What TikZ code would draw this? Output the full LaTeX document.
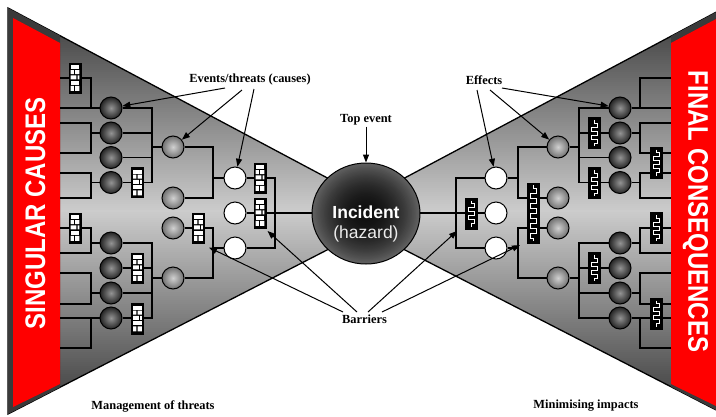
\documentclass[tikz,border=0pt]{standalone}
\usepackage{fontspec}
\setmainfont{Liberation Serif}
\setsansfont{Liberation Sans}
\usetikzlibrary{arrows.meta,shapes.geometric}
\definecolor{redband}{HTML}{FF0000}
\definecolor{stripgray}{HTML}{3A3A3A}

\tikzset{
 conn/.style={line width=1.2pt, black},
 darkball/.style={circle, draw=black, line width=1pt, minimum size=22pt, inner sep=0pt, inner color=black!42, outer color=black!86},
 grayball/.style={circle, draw=black, line width=1pt, minimum size=22pt, inner sep=0pt, inner color=black!18, outer color=black!56},
 whiteball/.style={circle, draw=black, line width=1pt, minimum size=22pt, inner sep=0pt, fill=white},
 bbox/.style={rectangle, draw=black, fill=black, line width=0.6pt, minimum width=12pt, inner sep=0pt},
 lbl/.style={font=\fontsize{12.4}{14}\selectfont\bfseries, text=black, inner sep=1pt},
 arr/.style={line width=1pt, -{Triangle[length=8pt,width=6pt]}},
 wave/.style={white, line width=0.9pt}
}

\newcommand\brickbox[4]{%
  \node[bbox, minimum height=#4pt] (#1) at (#2,#3) {};
  \begin{scope}[shift={(#2,#3)}]
    \fill[white] (-4.3,-13) rectangle (4.3,-9);
    \fill[white] (-4.3,-7.8) rectangle (-1.2,-3.8) (0,-7.8) rectangle (4.3,-3.8);
    \fill[white] (-4.3,-2.6) rectangle (1.4,1.4) (2.6,-2.6) rectangle (4.3,1.4);
    \fill[white] (-4.3,2.6) rectangle (4.3,6.6);
    \fill[white] (-4.3,7.8) rectangle (-1.2,12.8) (0,7.8) rectangle (4.3,12.8);
  \end{scope}}

\newcommand\wavebox[3]{%
  \node[bbox, minimum height=31pt] (#1) at (#2,#3) {};
  \draw[wave,shift={(#2,#3)}] (0,-13) -- (0,-10) -- (3,-10) -- (3,-6) -- (-3,-6) -- (-3,-2) -- (3,-2) -- (3,2) -- (-3,2) -- (-3,6) -- (3,6) -- (3,10) -- (0,10) -- (0,13);}

\newcommand\halfnet[1]{%
  \draw[conn] (60,78) -| (91,108);
  \draw[conn] (60,123) -| (91,153) -- (60,153);
  \draw[conn] (60,173) -| (91,198) -- (60,198);
  \draw[conn] (60,228) -| (91,253) -- (60,253);
  \draw[conn] (60,273) -| (91,304) -- (60,304);
  \draw[conn] (60,348) -| (91,318);
  \foreach \nm/\yy in {1/108,2/133,3/157.5,4/182.5,5/243,6/268,7/293,8/318}
    \node[darkball] (#1b\nm) at (111,\yy) {};
  \node[grayball] (#1gA) at (173,147) {};
  \node[grayball] (#1gB) at (173,198) {};
  \node[grayball] (#1gC) at (173,228) {};
  \node[grayball] (#1gD) at (173,278) {};
  \node[whiteball] (#1w1) at (235,178) {};
  \node[whiteball] (#1w2) at (235,213) {};
  \node[whiteball] (#1w3) at (235,248) {};
  \draw[conn] (60,108) -- (#1b1);
  \draw[conn] (91,133) -- (#1b2);
  \draw[conn] (91,182.5) -- (#1b4);
  \draw[conn] (91,243) -- (#1b5);
  \draw[conn] (91,293) -- (#1b7);
  \draw[conn] (60,318) -- (#1b8);
  \draw[conn] (#1b1) -- (152,108) -- (152,182.5) -- (#1b4);
  \draw[conn] (#1b2) -- (152,133);
  \draw[conn] (#1b3) -- (152,157.5);
  \draw[conn] (152,147) -- (#1gA);
  \draw[conn] (#1b5) -- (152,243) -- (152,318) -- (#1b8);
  \draw[conn] (#1b6) -- (152,268);
  \draw[conn] (#1b7) -- (152,293);
  \draw[conn] (152,278) -- (#1gD);
  \draw[conn] (#1gA) -- (213,147) -- (213,198) -- (#1gB);
  \draw[conn] (213,178) -- (#1w1);
  \draw[conn] (#1gC) -- (213,228) -- (213,278) -- (#1gD);
  \draw[conn] (213,248) -- (#1w3);
  \draw[conn] (#1w1) -- (275,178) -- (275,248) -- (#1w3);
}

\begin{document}
\begin{tikzpicture}[x=1pt,y=-1pt]
\useasboundingbox (0,0) rectangle (716,416);
\clip (0,0) rectangle (716,416);
\fill[white] (0,0) rectangle (716,416);

% bow-tie wings: vertical gradient dark - light - dark
\begin{scope}
\clip (8,8) -- (396,214.5) -- (8,414) -- cycle (724,8) -- (724,414) -- (336,214.5) -- cycle;
\foreach \i in {0,...,203} {
  \pgfmathsetmacro\pp{20+58*abs(9+2*\i-211)/203}
  \fill[black!\pp] (0,8+2*\i) rectangle (740,10.4+2*\i);
}
\end{scope}
\draw[line width=1.3pt] (8,8) -- (396,214.5) -- (8,414) -- cycle;
\draw[line width=1.3pt] (724,8) -- (336,214.5) -- (724,414) -- cycle;

% dark strips and red bands
\fill[stripgray] (8,8) -- (60,35.7) -- (60,387.3) -- (8,414) -- cycle;
\fill[stripgray] (724,8) -- (671,36.2) -- (671,386.8) -- (724,414) -- cycle;
\fill[redband] (13,18) -- (60,43) -- (60,384) -- (13,407) -- cycle;
\fill[redband] (718,18) -- (671,43) -- (671,384) -- (718,407) -- cycle;
\node[rotate=90, text=white, inner sep=0pt, font=\sffamily\bfseries\fontsize{24}{24}\selectfont] (sc) at (35.5,213.5) {\scalebox{1}[1.18]{SINGULAR CAUSES}};
\node[rotate=-90, text=white, inner sep=0pt, font=\sffamily\bfseries\fontsize{24}{24}\selectfont] (fc) at (695.5,211.5) {\scalebox{1}[1.18]{FINAL CONSEQUENCES}};

% networks
\halfnet{L}
\begin{scope}[xshift=731pt, xscale=-1]
\halfnet{R}
\end{scope}
\draw[conn] (Lw2) -- (Rw2);

% barriers, left (brick) and right (wave)
\brickbox{lx1}{75}{78}{30}
\brickbox{lx2}{75}{228}{30}
\brickbox{lx3}{137.5}{182.5}{30}
\brickbox{lx4}{137.5}{268}{30}
\brickbox{lx5}{137.5}{318.5}{31}
\brickbox{lx6}{198.5}{228}{30}
\brickbox{lx7}{260}{178}{30}
\brickbox{lx8}{260}{213}{30}
\wavebox{rx1}{471.5}{213.5}
\wavebox{rx3}{594}{133}
\wavebox{rx4}{594}{183}
\wavebox{rx5}{594}{268}
\wavebox{rx6}{656}{162.5}
\wavebox{rx7}{656}{228}
\wavebox{rx8}{656}{313.5}
\node[bbox, minimum height=60pt] (rx2) at (533,213) {};
\draw[wave,shift={(533,213)}] (0,-28) -- (0,-25) -- (3,-25) -- (3,-20) -- (-3,-20) -- (-3,-15) -- (3,-15) -- (3,-10) -- (-3,-10) -- (-3,-5) -- (3,-5) -- (3,0) -- (-3,0) -- (-3,5) -- (3,5) -- (3,10) -- (-3,10) -- (-3,15) -- (3,15) -- (3,20) -- (-3,20) -- (-3,25) -- (0,25) -- (0,28);

% top event: radial gradient drawn as concentric ellipses
\foreach \k in {0,...,40} {
  \pgfmathsetmacro\ff{1-\k/40}
  \pgfmathsetmacro\pq{94-32*\ff*\ff}
  \fill[black!\pq] (366,213.5) ellipse [x radius=54*\ff, y radius=50.5*\ff];
}
\node[ellipse, draw=black, line width=1pt, minimum width=108pt, minimum height=101pt, inner sep=0pt] (inc) at (366,213.5) {};
\node[anchor=base, text=white, inner sep=0pt, font=\sffamily\bfseries\fontsize{17.5}{18}\selectfont] (inct) at (366,218) {Incident};
\node[anchor=base, text=black!8, inner sep=0pt, font=\sffamily\fontsize{17.5}{18}\selectfont] (haz) at (366,238) {(hazard)};

% labels
\node[lbl] (evt) at (250,80) {Events/threats (causes)};
\node[lbl] (eff) at (484,80) {Effects};
\node[lbl] (top) at (366,120) {Top event};
\node[lbl] (bar) at (364.5,319) {Barriers};
\node[lbl] (mgt) at (153,406) {Management of threats};
\node[lbl] (mini) at (586,406) {Minimising impacts};

% arrows
\coordinate (ea1) at (225,88);
\coordinate (ea2) at (242,90);
\coordinate (ea3) at (254,89);
\coordinate (fa1) at (477,90);
\coordinate (fa2) at (490,90);
\coordinate (fa3) at (502,88);
\coordinate (ba1) at (343,312);
\coordinate (ba2) at (357,312);
\coordinate (ba3) at (368,312);
\coordinate (ba4) at (382,312);
\coordinate (bt1) at (209,247.5);
\coordinate (bt2) at (267.5,231);
\coordinate (bt3) at (457,231);
\coordinate (bt4) at (520,245);
\draw[arr] (ea1) -- (Lb1);
\draw[arr] (ea2) -- (LgA);
\draw[arr] (ea3) -- (Lw1);
\draw[arr] (fa1) -- (Rw1);
\draw[arr] (fa2) -- (RgA);
\draw[arr] (fa3) -- (Rb1);
\draw[arr] (top) -- (inc);
\draw[arr] (ba1) -- (bt1);
\draw[arr] (ba2) -- (bt2);
\draw[arr] (ba3) -- (bt3);
\draw[arr] (ba4) -- (bt4);
\end{tikzpicture}
\end{document}
